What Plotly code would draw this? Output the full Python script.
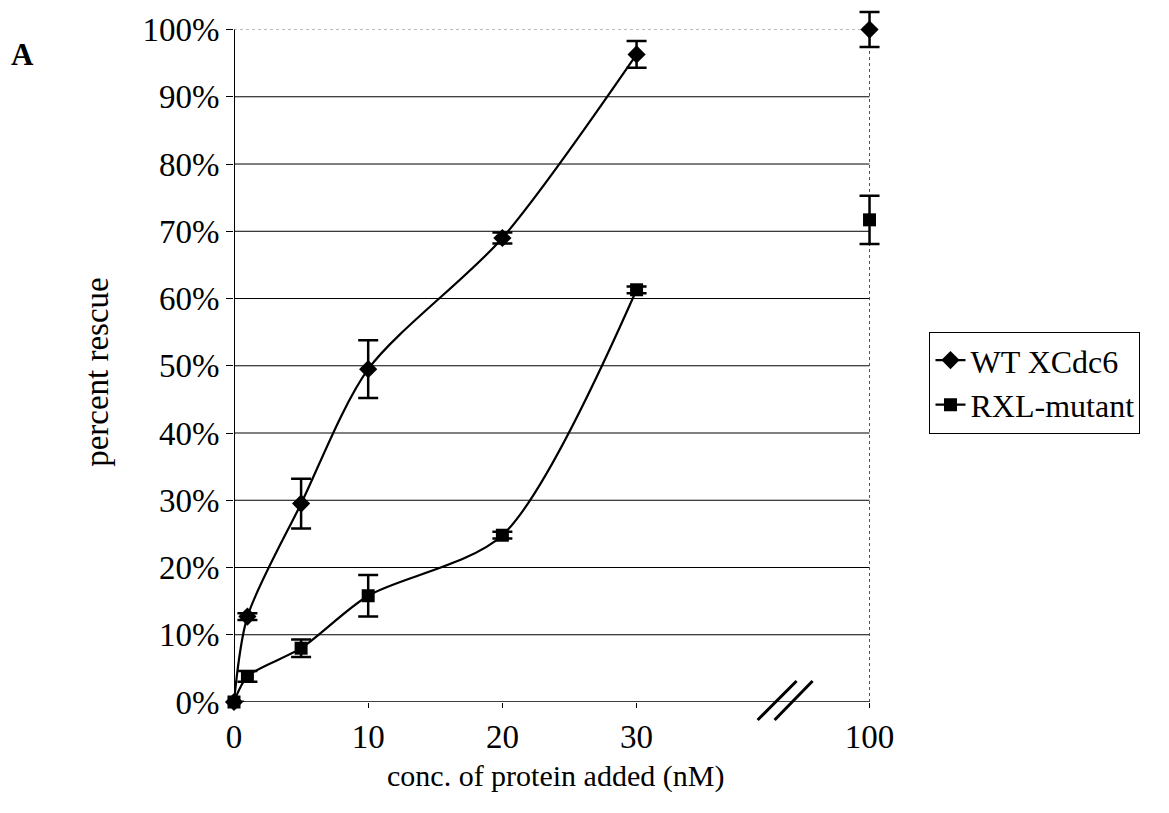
import plotly.graph_objects as go

# ---- data ----
conc = [0, 1, 5, 10, 20, 30]
wt_rescue = [0.0, 0.127, 0.295, 0.495, 0.690, 0.963]
wt_err = [0.0, 0.005, 0.037, 0.043, 0.008, 0.020]
rxl_rescue = [0.0, 0.038, 0.080, 0.158, 0.248, 0.613]
rxl_err = [0.0, 0.008, 0.013, 0.031, 0.005, 0.005]

conc_high = [100]
wt_high = [1.000]
wt_high_err = [0.026]
rxl_high = [0.717]
rxl_high_err = [0.036]

x_ticks = [0, 10, 20, 30, 100]
y_ticks = [0, 0.1, 0.2, 0.3, 0.4, 0.5, 0.6, 0.7, 0.8, 0.9, 1.0]

# broken-axis scale: linear up to 30, then the 100 value sits at the break position
BREAK_POS = 47.36
XMAX = BREAK_POS + 1.6
YMAX = 1.035


def xscale(v):
    return v if v <= 30 else BREAK_POS


# ---- layout geometry (pixels) ----
W, H = 1169, 813
L, B = 234, 111
PX_PER_X = 636 / BREAK_POS
PX_PER_Y = 672
plot_w = PX_PER_X * XMAX
plot_h = PX_PER_Y * YMAX
R = W - L - plot_w
T = H - B - plot_h


def px_to_paper_x(px):
    return (px - L) / plot_w


def px_to_paper_y(py):
    return (H - B - py) / plot_h


FONT = "Liberation Serif, Times New Roman, serif"

fig = go.Figure()

err_style = dict(type="data", visible=True, color="black", thickness=2.5, width=10)

fig.add_trace(go.Scatter(
    x=[xscale(v) for v in conc], y=wt_rescue, name="WT XCdc6",
    mode="lines+markers",
    line=dict(color="black", width=2.2, shape="spline", smoothing=0.8),
    marker=dict(symbol="diamond", size=14, color="black"),
    error_y=dict(array=wt_err, **err_style),
    cliponaxis=False,
))
fig.add_trace(go.Scatter(
    x=[xscale(v) for v in conc], y=rxl_rescue, name="RXL-mutant",
    mode="lines+markers",
    line=dict(color="black", width=2.2, shape="spline", smoothing=0.8),
    marker=dict(symbol="square", size=13, color="black"),
    error_y=dict(array=rxl_err, **err_style),
    cliponaxis=False,
))
fig.add_trace(go.Scatter(
    x=[xscale(v) for v in conc_high], y=wt_high, mode="markers", showlegend=False,
    marker=dict(symbol="diamond", size=14, color="black"),
    error_y=dict(array=wt_high_err, **err_style), cliponaxis=False,
))
fig.add_trace(go.Scatter(
    x=[xscale(v) for v in conc_high], y=rxl_high, mode="markers", showlegend=False,
    marker=dict(symbol="square", size=13, color="black"),
    error_y=dict(array=rxl_high_err, **err_style), cliponaxis=False,
))

shapes = []
# horizontal gridlines (solid for interior ticks, faint dotted at top)
for t in y_ticks[1:-1]:
    shapes.append(dict(type="line", xref="x", yref="y", x0=0, x1=BREAK_POS, y0=t, y1=t,
                       line=dict(color="black", width=1), layer="below"))
shapes.append(dict(type="line", xref="x", yref="y", x0=0, x1=BREAK_POS, y0=1, y1=1,
                   line=dict(color="#bbbbbb", width=1, dash="dot"), layer="below"))
# right border dotted
shapes.append(dict(type="line", xref="x", yref="y", x0=BREAK_POS, x1=BREAK_POS, y0=0, y1=1,
                   line=dict(color="#555555", width=1, dash="dot"), layer="below"))
# axis lines
shapes.append(dict(type="line", xref="x", yref="y", x0=0, x1=0, y0=0, y1=1,
                   line=dict(color="black", width=2), layer="below"))
shapes.append(dict(type="line", xref="x", yref="y", x0=0, x1=BREAK_POS, y0=0, y1=0,
                   line=dict(color="black", width=1.5), layer="below"))
# axis break marks (drawn in paper space so they are not clipped)
for x0, x1 in [(758, 797), (775, 813)]:
    shapes.append(dict(type="line", xref="paper", yref="paper",
                       x0=px_to_paper_x(x0), x1=px_to_paper_x(x1),
                       y0=px_to_paper_y(720), y1=px_to_paper_y(681),
                       line=dict(color="black", width=3)))

fig.update_layout(
    width=W, height=H,
    margin=dict(l=L, r=R, t=T, b=B, pad=0),
    paper_bgcolor="white", plot_bgcolor="white",
    font=dict(family=FONT, color="black", size=30),
    showlegend=True,
    legend=dict(
        x=px_to_paper_x(930), y=px_to_paper_y(332), xanchor="left", yanchor="top",
        bordercolor="black", borderwidth=1, bgcolor="white",
        font=dict(family=FONT, size=32, color="black"),
        tracegroupgap=0, itemwidth=30,
    ),
    xaxis=dict(
        range=[0, XMAX],
        tickmode="array",
        tickvals=[xscale(v) for v in x_ticks],
        ticktext=[str(v) for v in x_ticks],
        showgrid=False, zeroline=False, showline=False,
        ticks="outside", ticklen=5, tickcolor="black",
        tickfont=dict(family=FONT, size=33),
    ),
    yaxis=dict(
        range=[0, YMAX],
        tickmode="array",
        tickvals=y_ticks,
        ticktext=[f"{int(round(v * 100))}%" for v in y_ticks],
        showgrid=False, zeroline=False, showline=False,
        ticks="outside", ticklen=7, tickcolor="black",
        tickfont=dict(family=FONT, size=33),
    ),
    shapes=shapes,
    annotations=[
        dict(text="<b>A</b>", xref="paper", yref="paper",
             x=px_to_paper_x(22), y=px_to_paper_y(55), xanchor="center", yanchor="middle",
             showarrow=False, font=dict(family=FONT, size=31)),
        dict(text="percent rescue", xref="paper", yref="paper",
             x=px_to_paper_x(97), y=px_to_paper_y(372), xanchor="center", yanchor="middle",
             textangle=-90, showarrow=False, font=dict(family=FONT, size=33)),
        dict(text="conc. of protein added (nM)", xref="paper", yref="paper",
             x=px_to_paper_x(556), y=px_to_paper_y(776), xanchor="center", yanchor="middle",
             showarrow=False, font=dict(family=FONT, size=30)),
    ],
)

fig.write_html("out.html")
